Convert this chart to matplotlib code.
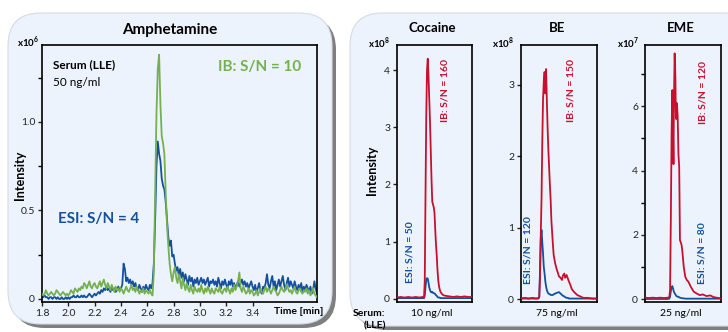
import numpy as np
import matplotlib
matplotlib.use("Agg")
import matplotlib.pyplot as plt
from matplotlib.patches import FancyBboxPatch

plt.rcParams['font.family'] = ['Lato', 'DejaVu Sans']
plt.rcParams['mathtext.fontset'] = 'custom'
plt.rcParams['mathtext.rm'] = 'Lato'
plt.rcParams['mathtext.bf'] = 'Lato:bold'

# ---------------- data ----------------
# Amphetamine (x10^6), time in min, 1.80 .. 3.89 step 0.01
amph_t_start, amph_t_step = 1.80, 0.01
amph_ib = [
    0.03,0.02,0.03,0.05,0.03,0.02,0.03,0.04,0.03,0.02,
    0.03,0.05,0.04,0.03,0.02,0.03,0.04,0.03,0.02,0.03,
    0.02,0.03,0.05,0.04,0.03,0.06,0.05,0.04,0.06,0.05,
    0.07,0.06,0.09,0.08,0.06,0.08,0.10,0.07,0.06,0.08,
    0.09,0.07,0.06,0.08,0.10,0.07,0.09,0.11,0.08,0.06,
    0.09,0.07,0.05,0.08,0.06,0.04,0.07,0.05,0.06,0.04,
    0.06,0.05,0.03,0.05,0.07,0.05,0.04,0.06,0.08,0.05,
    0.06,0.04,0.07,0.05,0.03,0.05,0.04,0.06,0.03,0.05,
    0.04,0.03,0.05,0.03,0.02,0.15,0.60,1.05,1.30,1.38,
    1.10,0.92,0.88,0.82,0.60,0.42,0.30,0.20,0.14,0.10,
    0.15,0.18,0.12,0.09,0.14,0.10,0.06,0.12,0.08,0.05,
    0.09,0.06,0.04,0.08,0.05,0.03,0.07,0.05,0.04,0.06,
    0.04,0.08,0.05,0.03,0.06,0.04,0.07,0.05,0.03,0.06,
    0.04,0.03,0.06,0.05,0.04,0.07,0.04,0.03,0.05,0.06,
    0.04,0.07,0.05,0.03,0.06,0.04,0.08,0.05,0.07,0.10,
    0.15,0.06,0.04,0.07,0.05,0.03,0.04,0.06,0.03,0.05,
    0.04,0.02,0.03,0.05,0.02,0.04,0.06,0.04,0.03,0.05,
    0.07,0.04,0.06,0.05,0.03,0.05,0.07,0.05,0.04,0.02,
    0.03,0.05,0.07,0.05,0.04,0.06,0.08,0.06,0.04,0.05,
    0.03,0.05,0.07,0.04,0.03,0.05,0.06,0.04,0.03,0.05,
    0.04,0.06,0.03,0.05,0.02,0.04,0.06,0.03,0.02,0.01,
]
amph_esi = [
    0.01,0.01,0.02,0.01,0.01,0.00,0.01,0.01,0.00,0.01,
    0.01,0.00,0.01,0.00,0.00,0.01,0.00,0.00,0.01,0.00,
    0.01,0.00,0.01,0.01,0.02,0.01,0.01,0.02,0.01,0.01,
    0.02,0.01,0.02,0.01,0.01,0.02,0.03,0.02,0.01,0.02,
    0.03,0.02,0.03,0.04,0.03,0.05,0.04,0.06,0.05,0.07,
    0.05,0.06,0.04,0.07,0.05,0.06,0.04,0.05,0.07,0.05,
    0.06,0.08,0.20,0.17,0.10,0.12,0.09,0.11,0.08,0.10,
    0.07,0.09,0.06,0.05,0.08,0.06,0.04,0.07,0.05,0.08,
    0.06,0.05,0.08,0.06,0.09,0.20,0.45,0.75,0.89,0.82,
    0.78,0.68,0.64,0.62,0.55,0.45,0.35,0.30,0.33,0.24,
    0.25,0.20,0.16,0.18,0.13,0.17,0.12,0.15,0.10,0.14,
    0.11,0.08,0.13,0.10,0.12,0.07,0.11,0.09,0.12,0.08,
    0.10,0.12,0.09,0.11,0.08,0.10,0.12,0.07,0.10,0.09,
    0.11,0.08,0.10,0.07,0.12,0.09,0.06,0.10,0.08,0.11,
    0.08,0.06,0.10,0.08,0.11,0.07,0.09,0.06,0.08,0.10,
    0.07,0.09,0.11,0.08,0.10,0.07,0.09,0.06,0.08,0.10,
    0.07,0.05,0.08,0.04,0.06,0.09,0.05,0.03,0.07,0.06,
    0.09,0.14,0.08,0.06,0.10,0.13,0.07,0.10,0.05,0.08,
    0.11,0.07,0.10,0.13,0.08,0.05,0.09,0.12,0.07,0.10,
    0.08,0.06,0.10,0.07,0.05,0.08,0.06,0.09,0.04,0.07,
    0.05,0.08,0.06,0.04,0.07,0.03,0.05,0.10,0.06,0.03,
]
amph_xticks = [1.8, 2.0, 2.2, 2.4, 2.6, 2.8, 3.0, 3.2, 3.4]

# Cocaine (x10^8), relative time in window
coc_t = [0.00,0.05,0.10,0.15,0.20,0.25,0.30,0.34,0.36,0.37,0.38,0.39,0.40,0.41,0.42,
         0.43,0.44,0.45,0.46,0.47,0.48,0.49,0.50,0.51,0.52,0.53,0.54,0.55,0.56,0.57,
         0.58,0.60,0.62,0.65,0.70,0.75,0.80,0.85,0.90,0.95,1.00]
coc_ib = [0.02,0.03,0.02,0.03,0.02,0.03,0.02,0.03,0.02,0.30,1.80,3.20,4.00,4.20,3.90,
          3.50,3.10,2.60,2.10,1.70,1.65,1.60,1.50,1.20,0.95,0.75,0.50,0.32,0.22,0.16,
          0.12,0.08,0.06,0.05,0.04,0.03,0.04,0.03,0.04,0.03,0.03]
coc_esi = [0.01,0.01,0.01,0.01,0.01,0.01,0.01,0.01,0.01,0.05,0.20,0.33,0.36,0.35,0.28,
           0.20,0.15,0.12,0.11,0.12,0.10,0.10,0.09,0.08,0.06,0.05,0.03,0.02,0.02,0.02,
           0.01,0.01,0.01,0.01,0.01,0.01,0.01,0.01,0.01,0.01,0.01]

# BE (x10^8)
be_t = [0.00,0.05,0.10,0.15,0.20,0.23,0.24,0.25,0.26,0.27,0.28,0.29,0.30,0.31,0.32,
        0.33,0.34,0.35,0.36,0.38,0.39,0.40,0.42,0.43,0.45,0.47,0.50,0.52,0.54,0.55,
        0.57,0.58,0.60,0.62,0.63,0.65,0.67,0.70,0.74,0.78,0.82,0.88,0.94,1.00]
be_ib = [0.01,0.02,0.01,0.02,0.01,0.02,0.03,0.30,0.90,1.40,2.20,2.80,3.05,3.18,2.88,
         3.22,2.79,2.40,2.09,1.60,1.39,1.10,0.76,0.62,0.50,0.42,0.32,0.30,0.27,0.33,
         0.36,0.30,0.34,0.28,0.25,0.20,0.14,0.10,0.06,0.04,0.02,0.02,0.01,0.01]
be_esi = [0.01,0.01,0.01,0.01,0.01,0.01,0.03,0.40,0.85,0.97,0.80,0.64,0.45,0.36,0.25,
          0.18,0.13,0.10,0.08,0.07,0.06,0.06,0.06,0.07,0.08,0.09,0.10,0.08,0.06,0.05,
          0.04,0.03,0.02,0.02,0.01,0.01,0.01,0.01,0.01,0.01,0.01,0.01,0.01,0.01]

# EME (x10^7)
eme_t = [0.00,0.05,0.10,0.15,0.20,0.25,0.30,0.32,0.33,0.34,0.35,0.36,0.37,0.375,0.38,
         0.39,0.40,0.405,0.41,0.42,0.43,0.44,0.45,0.46,0.48,0.49,0.51,0.53,0.55,0.57,
         0.60,0.64,0.68,0.72,0.76,0.81,0.86,0.90,0.94,1.00]
eme_ib = [0.05,0.04,0.05,0.04,0.05,0.04,0.05,0.06,0.30,2.50,5.20,6.50,5.00,4.20,6.00,
          7.64,6.90,5.88,5.60,6.09,5.67,4.50,4.12,1.84,1.70,1.53,1.00,0.70,0.60,0.55,
          0.40,0.24,0.18,0.13,0.15,0.10,0.12,0.07,0.05,0.03]
eme_esi = [0.01,0.01,0.01,0.01,0.01,0.01,0.01,0.02,0.08,0.25,0.38,0.41,0.33,0.28,0.23,
           0.19,0.15,0.13,0.11,0.09,0.08,0.08,0.06,0.05,0.04,0.03,0.03,0.02,0.02,0.02,
           0.02,0.02,0.02,0.02,0.02,0.02,0.02,0.02,0.02,0.02]

GREEN = '#74B14E'
BLUE = '#14509E'
RED = '#C8102E'
PANEL = '#EDF3FC'

W, H = 728, 332
fig = plt.figure(figsize=(W / 100, H / 100), dpi=100)
fig.patch.set_facecolor('white')


def fx(x):
    return x / W


def fy(y):
    return 1 - y / H


def add_panel(x0, y0, x1, y1):
    shadow = FancyBboxPatch((fx(x0 + 4), fy(y1 + 4)), fx(x1 - x0), (y1 - y0) / H,
                            boxstyle="round,pad=0,rounding_size=0.045",
                            transform=fig.transFigure, facecolor='#7f7f7f',
                            edgecolor='none', zorder=-3, mutation_aspect=W / H)
    panel = FancyBboxPatch((fx(x0), fy(y1)), fx(x1 - x0), (y1 - y0) / H,
                           boxstyle="round,pad=0,rounding_size=0.045",
                           transform=fig.transFigure, facecolor=PANEL,
                           edgecolor='#d6dbe3', linewidth=0.8, zorder=-2,
                           mutation_aspect=W / H)
    fig.patches.extend([shadow, panel])


add_panel(8, 13, 332, 324)
add_panel(350, 13, 760, 326)


def make_ax(l, r, t, b):
    ax = fig.add_axes([fx(l), fy(b), fx(r - l), (b - t) / H])
    ax.set_facecolor(PANEL)
    for s in ax.spines.values():
        s.set_color('black')
        s.set_linewidth(1.2)
    ax.tick_params(direction='out', length=3, width=1, labelsize=7.5, pad=2,
                   colors='#222222')
    ax.tick_params(which='minor', direction='out', length=3, width=1)
    return ax


def mult_label(x, y, exp):
    fig.text(fx(x), fy(y), r'x10$^{\mathbf{%s}}$' % exp, ha='center', va='center',
             fontsize=7, fontweight='bold')


# ---------------- Amphetamine ----------------
n = len(amph_ib)
amph_t = amph_t_start + amph_t_step * np.arange(n)
ax = make_ax(42, 317, 45, 302)
ax.plot(amph_t, amph_ib, color=GREEN, lw=1.3, zorder=3)
ax.plot(amph_t, amph_esi, color=BLUE, lw=1.3, zorder=2)
ax.set_xlim(1.80, 3.89)
ax.set_ylim(-0.017, 1.435)
ax.set_xticks(amph_xticks)
ax.set_xticklabels([f"{v:.1f}" for v in amph_xticks])
ax.set_yticks([0, 0.5, 1.0])
ax.set_yticklabels(['0', '0.5', '1.0'])
ax.set_yticks([0.25, 0.75, 1.25], minor=True)
ax.tick_params(axis='x', which='minor', bottom=False)

fig.text(fx(170), fy(30), 'Amphetamine', ha='center', va='center',
         fontsize=11, fontweight='bold')
mult_label(28, 42, '6')
fig.text(fx(20), fy(175), 'Intensity', ha='center', va='center', rotation=90,
         fontsize=9, fontweight='bold')
fig.text(fx(53), fy(65), 'Serum (LLE)', ha='left', va='center', fontsize=8.5,
         fontweight='bold')
fig.text(fx(53), fy(82), '50 ng/ml', ha='left', va='center', fontsize=8.5)
fig.text(fx(218), fy(67), 'IB: S/N = 10', ha='left', va='center', fontsize=11,
         fontweight='bold', color=GREEN)
fig.text(fx(58), fy(219), 'ESI: S/N = 4', ha='left', va='center', fontsize=11,
         fontweight='bold', color=BLUE)
fig.text(fx(323), fy(312), 'Time [min]', ha='right', va='center', fontsize=7.5,
         fontweight='bold')

# ---------------- Right panels ----------------
specs = [
    ('Cocaine', coc_t, coc_ib, coc_esi, (397, 472), (-0.058, 4.44), [0, 1, 2, 3, 4], [],
     '8', 379, '10 ng/ml', 432, 'IB: S/N = 160', (445, 90), 'ESI: S/N = 50', (410, 252)),
    ('BE', be_t, be_ib, be_esi, (521, 597), (-0.038, 3.557), [0, 1, 2, 3], [],
     '8', 503, '75 ng/ml', 557, 'IB: S/N = 150', (571, 90), 'ESI: S/N = 120', (528, 250)),
    ('EME', eme_t, eme_ib, eme_esi, (645, 721), (-0.084, 7.9), [0, 2, 4, 6], [1, 3, 5, 7],
     '7', 628, '25 ng/ml', 681, 'IB: S/N = 120', (703, 92), 'ESI: S/N = 80', (702, 253)),
]

for (name, t, ib, esi, (l, r), ylim, yt, ymt, mult, mx, conc, cx,
     ibl, ibpos, esil, esipos) in specs:
    a = make_ax(l, r, 45, 302)
    a.plot(t, ib, color=RED, lw=1.3, zorder=3)
    a.plot(t, esi, color=BLUE, lw=1.3, zorder=2)
    a.set_xlim(0, 1)
    a.set_ylim(*ylim)
    a.set_xticks([])
    a.set_yticks(yt)
    a.set_yticklabels([str(v) for v in yt])
    a.set_yticks(ymt, minor=True)
    fig.text(fx((l + r) / 2 - 2), fy(28), name, ha='center', va='center',
             fontsize=9.5, fontweight='bold')
    mult_label(mx, 43, mult)
    fig.text(fx(cx), fy(313), conc, ha='center', va='center', fontsize=7.5)
    fig.text(fx(ibpos[0]), fy(ibpos[1]), ibl, ha='center', va='center',
             rotation=90, fontsize=7.5, fontweight='bold', color=RED)
    fig.text(fx(esipos[0]), fy(esipos[1]), esil, ha='center', va='center',
             rotation=90, fontsize=7.5, fontweight='bold', color=BLUE)

fig.text(fx(372), fy(170), 'Intensity', ha='center', va='center', rotation=90,
         fontsize=9, fontweight='bold')
fig.text(fx(369), fy(313), 'Serum:', ha='center', va='center', fontsize=7.5,
         fontweight='bold')
fig.text(fx(375), fy(326), '(LLE)', ha='center', va='center', fontsize=7.5,
         fontweight='bold')

fig.savefig('out.png', dpi=100, facecolor='white')
